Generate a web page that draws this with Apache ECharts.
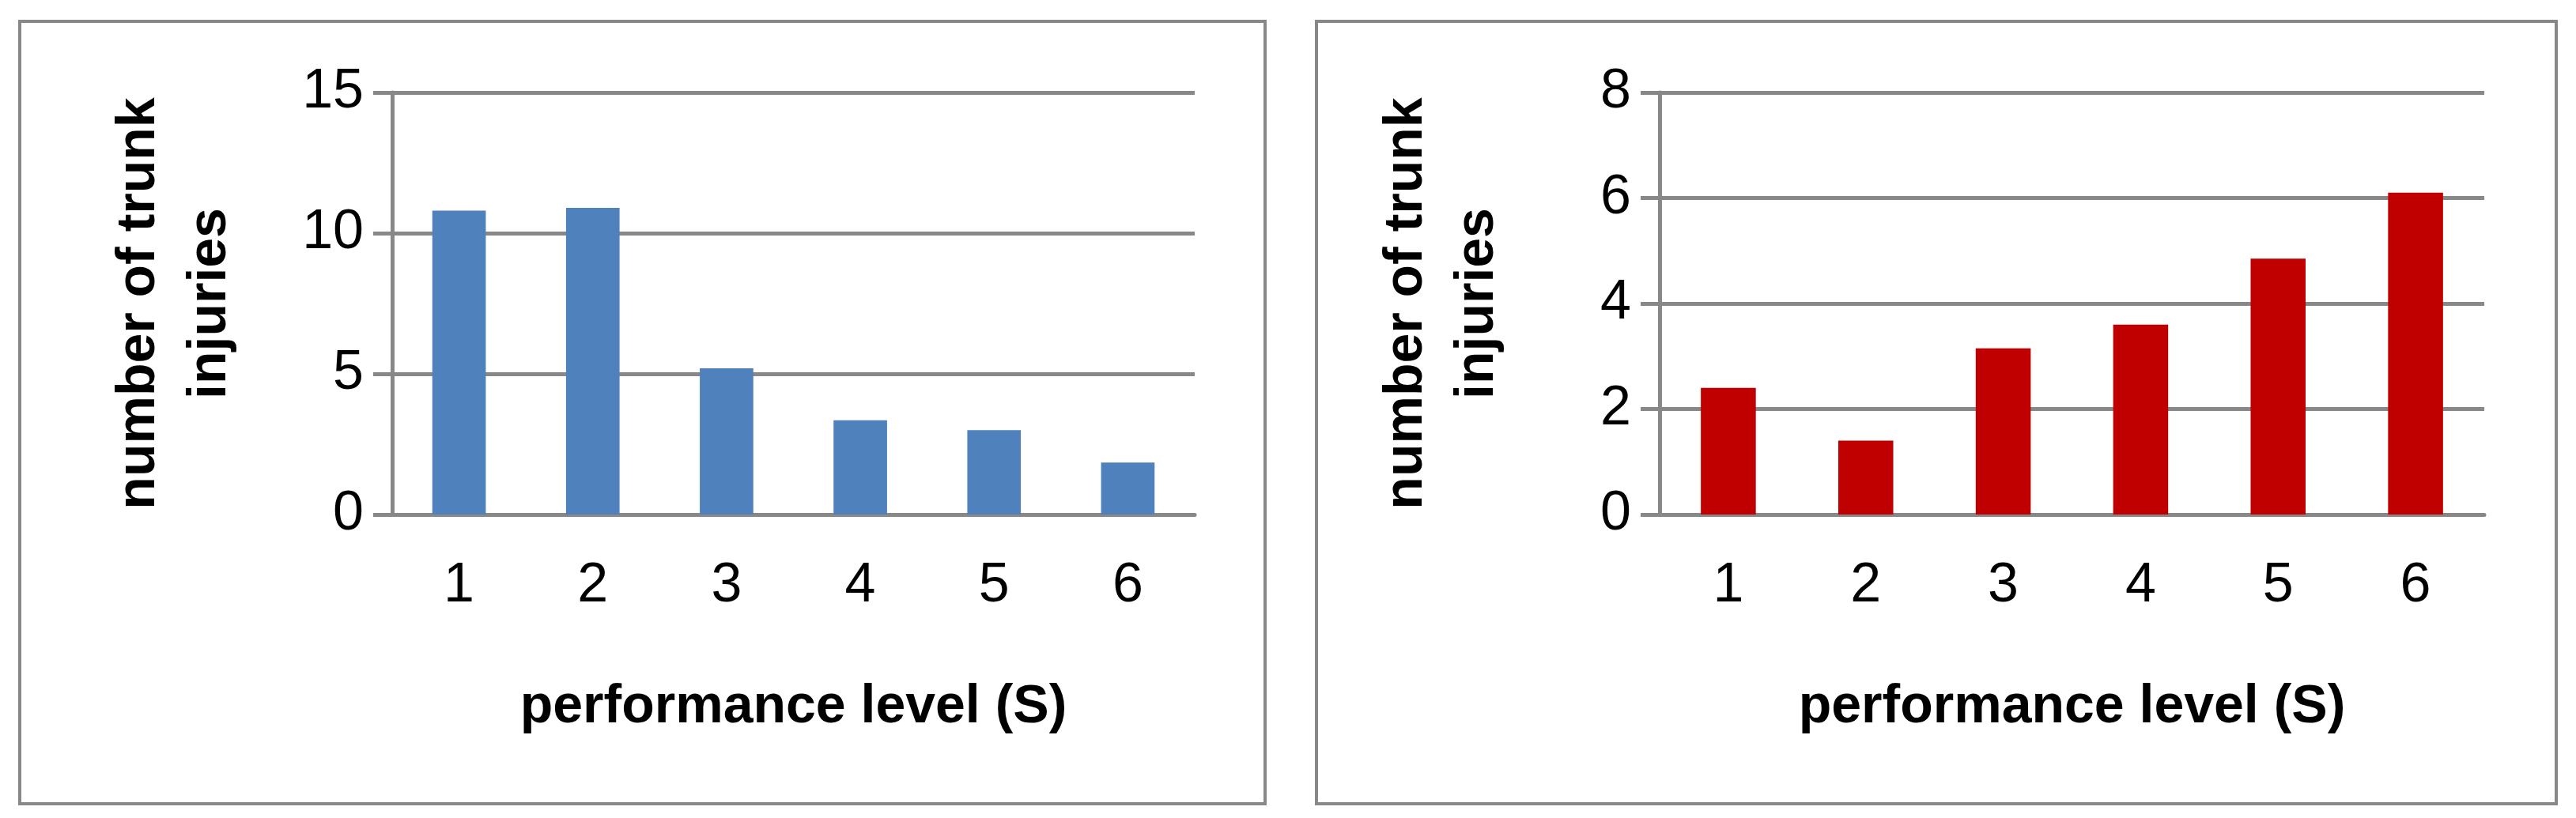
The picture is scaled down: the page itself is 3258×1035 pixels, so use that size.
<!DOCTYPE html><html><head><meta charset="utf-8">
<script src="https://cdn.jsdelivr.net/npm/echarts@6/dist/echarts.min.js"></script>
<style>html,body{margin:0;padding:0;background:#fff}#c{width:3258px;height:1035px}</style></head><body><div id="c"></div>
<script>
const categories = ['1','2','3','4','5','6'];
const leftValues = [10.8, 10.9, 5.2, 3.35, 3.0, 1.85];
const rightValues = [2.4, 1.4, 3.15, 3.6, 4.85, 6.1];
const xTitle = 'performance level (S)';
const yTitle = 'number of trunk\ninjuries';
const font = '"Liberation Sans Narrow", "Liberation Sans", sans-serif';
const chart = echarts.init(document.getElementById('c'));
function xa(i){return {type:'category',gridIndex:i,data:categories,
  axisLine:{lineStyle:{color:'#888',width:5}},axisTick:{length:30,lineStyle:{color:'#888',width:5}},
  axisLabel:{fontSize:70,color:'#000',fontFamily:font,margin:56},
  name:xTitle,nameLocation:'middle',nameGap:210,nameTextStyle:{fontSize:68,fontWeight:'bold',color:'#000',fontFamily:font}};}
function ya(i,max,int){return {type:'value',gridIndex:i,min:0,max:max,interval:int,
  axisLine:{show:true,lineStyle:{color:'#888',width:5}},axisTick:{show:true,length:24,lineStyle:{color:'#888',width:5}},
  splitLine:{lineStyle:{color:'#888',width:5}},
  axisLabel:{fontSize:70,color:'#000',fontFamily:font,margin:36},
  name:yTitle,nameLocation:'middle',nameRotate:90,nameGap:185,
  nameTextStyle:{fontSize:68,fontWeight:'bold',color:'#000',fontFamily:font,lineHeight:90}};}
chart.setOption({
  animation:false,
  graphic:[
    {type:'rect',shape:{x:25,y:27,width:1575,height:990},style:{fill:'none',stroke:'#888',lineWidth:4}},
    {type:'rect',shape:{x:1665,y:27,width:1568,height:990},style:{fill:'none',stroke:'#888',lineWidth:4}}
  ],
  grid:[{left:496,top:117,width:1015,height:534},{left:2099,top:117,width:1043,height:534}],
  xAxis:[xa(0),xa(1)],
  yAxis:[ya(0,15,5),ya(1,8,2)],
  series:[
    {type:'bar',xAxisIndex:0,yAxisIndex:0,data:leftValues,barWidth:'40%',itemStyle:{color:'#4F81BD'}},
    {type:'bar',xAxisIndex:1,yAxisIndex:1,data:rightValues,barWidth:'40%',itemStyle:{color:'#C00000'}}
  ]
});
</script></body></html>
